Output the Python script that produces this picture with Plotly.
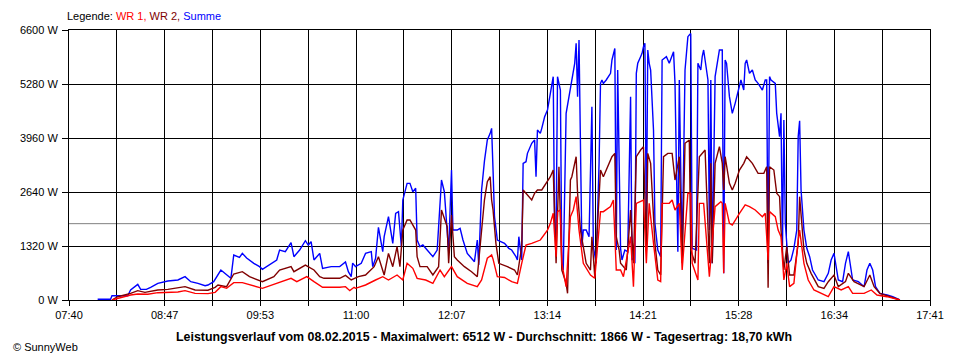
import plotly.graph_objects as go

# ---------------- data ----------------
X_TICK_LABELS = ["07:40", "08:47", "09:53", "11:00", "12:07", "13:14", "14:21", "15:28", "16:34", "17:41"]
X_START, X_END = "07:40", "17:41"
Y_TICKS = [0, 1320, 2640, 3960, 5280, 6600]
AVERAGE_W = 1866
TITLE = "Leistungsverlauf vom 08.02.2015 - Maximalwert: 6512 W - Durchschnitt: 1866 W - Tagesertrag: 18,70 kWh"

SUMME = [
    ("08:00", 20), ("08:09", 20), ("08:10", 105), ("08:21", 105), ("08:23", 245), ("08:28", 383),
    ("08:30", 260), ("08:34", 260), ("08:37", 310), ("08:42", 408), ("08:49", 464), ("08:56", 489),
    ("09:01", 570), ("09:05", 448), ("09:10", 408), ("09:15", 350), ("09:17", 367), ("09:19", 408),
    ("09:21", 448), ("09:26", 733), ("09:30", 611), ("09:33", 530), ("09:35", 1100), ("09:39", 1043),
    ("09:41", 1140), ("09:44", 1026), ("09:49", 897), ("09:53", 815), ("09:55", 750), ("10:00", 855),
    ("10:05", 978), ("10:07", 1222), ("10:11", 1181), ("10:15", 1400), ("10:17", 1059), ("10:21", 1222),
    ("10:25", 1450), ("10:27", 1344), ("10:29", 1425), ("10:31", 978), ("10:35", 1140), ("10:37", 774),
    ("10:43", 815), ("10:49", 815), ("10:53", 930), ("10:55", 692), ("10:57", 570), ("10:58", 900),
    ("11:00", 815), ("11:04", 897), ("11:07", 1140), ("11:11", 1181), ("11:12", 815), ("11:14", 1018),
    ("11:16", 1777), ("11:19", 1181), ("11:20", 1547), ("11:23", 2036), ("11:26", 1385), ("11:28", 2119),
    ("11:30", 2160), ("11:32", 1303), ("11:33", 2444), ("11:36", 2852), ("11:38", 2852), ("11:40", 2647),
    ("11:42", 2730), ("11:43", 1466), ("11:45", 1303), ("11:47", 1344), ("11:51", 1181), ("11:54", 1059),
    ("11:57", 1222), ("12:00", 2933), ("12:02", 2647), ("12:05", 1181), ("12:07", 3177), ("12:08", 1710),
    ("12:11", 1710), ("12:13", 1752), ("12:15", 1466), ("12:18", 1140), ("12:23", 937), ("12:25", 1466),
    ("12:26", 855), ("12:28", 2689), ("12:30", 3400), ("12:32", 3911), ("12:34", 4074), ("12:35", 4196),
    ("12:36", 3177), ("12:37", 2036), ("12:39", 1466), ("12:44", 1385), ("12:47", 1263), ("12:49", 1222),
    ("12:52", 1059), ("12:53", 978), ("12:54", 1547), ("12:56", 978), ("12:57", 3340), ("12:59", 3380),
    ("13:00", 3585), ("13:03", 3830), ("13:05", 3911), ("13:06", 3014), ("13:07", 4155), ("13:09", 4074),
    ("13:10", 4196), ("13:12", 4480), ("13:14", 4644), ("13:16", 5052), ("13:17", 5296), ("13:18", 5460),
    ("13:19", 1547), ("13:20", 1630), ("13:21", 5460), ("13:22", 5296), ("13:23", 5133), ("13:24", 897),
    ("13:25", 733), ("13:27", 4563), ("13:29", 4970), ("13:31", 5296), ("13:33", 5786), ("13:34", 6274),
    ("13:35", 4970), ("13:36", 6355), ("13:37", 3177), ("13:38", 1303), ("13:39", 1710), ("13:41", 1710),
    ("13:43", 1547), ("13:45", 4726), ("13:46", 1303), ("13:48", 897), ("13:50", 3340), ("13:51", 5296),
    ("13:52", 5378), ("13:53", 5296), ("13:55", 5378), ("13:58", 5541), ("13:59", 5867), ("14:01", 6150),
    ("14:02", 1222), ("14:03", 5622), ("14:05", 1263), ("14:06", 978), ("14:08", 1222), ("14:10", 1181),
    ("14:12", 4970), ("14:13", 978), ("14:14", 1018), ("14:15", 897), ("14:16", 5541), ("14:17", 5786),
    ("14:19", 5948), ("14:20", 6030), ("14:21", 6192), ("14:22", 6274), ("14:23", 1710), ("14:24", 6111),
    ("14:25", 5786), ("14:26", 5622), ("14:28", 4155), ("14:29", 1874), ("14:31", 1222), ("14:33", 1059),
    ("14:34", 5867), ("14:37", 5948), ("14:39", 5786), ("14:41", 5948), ("14:42", 6070), ("14:43", 5296),
    ("14:45", 1181), ("14:46", 5378), ("14:48", 1059), ("14:50", 5622), ("14:51", 5948), ("14:52", 6437),
    ("14:53", 6478), ("14:54", 6512), ("14:55", 1263), ("14:57", 1222), ("14:58", 1222), ("14:59", 5786),
    ("15:01", 5622), ("15:02", 5948), ("15:03", 6111), ("15:06", 5378), ("15:07", 1710), ("15:08", 5378),
    ("15:09", 897), ("15:11", 5460), ("15:14", 6111), ("15:16", 6111), ("15:17", 652), ("15:18", 5867),
    ("15:19", 5786), ("15:21", 4970), ("15:23", 4563), ("15:25", 4807), ("15:28", 5296), ("15:29", 5378),
    ("15:31", 5133), ("15:32", 5786), ("15:33", 5867), ("15:35", 5541), ("15:37", 5622), ("15:39", 5378),
    ("15:41", 5296), ("15:44", 5133), ("15:46", 5378), ("15:47", 5378), ("15:48", 897), ("15:49", 5460),
    ("15:50", 5378), ("15:53", 5296), ("15:54", 4563), ("15:55", 4237), ("15:56", 3993), ("15:57", 4563),
    ("15:58", 1222), ("15:59", 4400), ("16:00", 1874), ("16:02", 897), ("16:04", 978), ("16:06", 1263),
    ("16:08", 1710), ("16:09", 3993), ("16:10", 4382), ("16:11", 2689), ("16:13", 1710), ("16:15", 1263),
    ("16:17", 1059), ("16:19", 733), ("16:23", 489), ("16:27", 448), ("16:30", 652), ("16:32", 978),
    ("16:34", 1140), ("16:37", 489), ("16:40", 448), ("16:42", 897), ("16:44", 1181), ("16:47", 489),
    ("16:51", 448), ("16:55", 326), ("16:57", 733), ("16:59", 897), ("17:01", 733), ("17:03", 326),
    ("17:06", 163), ("17:11", 122), ("17:15", 81), ("17:20", 0),
]

WR2 = [
    ("08:10", 0), ("08:14", 80), ("08:23", 163), ("08:28", 228), ("08:33", 187), ("08:42", 245),
    ("08:49", 260), ("09:01", 326), ("09:08", 245), ("09:17", 240), ("09:22", 310), ("09:24", 367),
    ("09:30", 326), ("09:35", 636), ("09:41", 692), ("09:46", 570), ("09:55", 448), ("10:03", 570),
    ("10:07", 733), ("10:15", 815), ("10:17", 692), ("10:25", 855), ("10:31", 733), ("10:35", 570),
    ("10:38", 530), ("10:49", 530), ("10:53", 600), ("10:57", 489), ("11:02", 570), ("11:07", 611),
    ("11:13", 815), ("11:16", 1059), ("11:20", 611), ("11:23", 1140), ("11:26", 815), ("11:29", 1303),
    ("11:31", 815), ("11:33", 1710), ("11:36", 1955), ("11:38", 1955), ("11:42", 1710), ("11:43", 1059),
    ("11:45", 815), ("11:50", 815), ("11:54", 611), ("11:58", 815), ("12:00", 2200), ("12:04", 1792),
    ("12:05", 897), ("12:07", 2078), ("12:09", 1059), ("12:11", 978), ("12:16", 815), ("12:21", 692),
    ("12:25", 570), ("12:28", 1792), ("12:30", 2450), ("12:32", 2893), ("12:34", 3014), ("12:35", 2444),
    ("12:36", 2200), ("12:38", 1385), ("12:40", 897), ("12:46", 815), ("12:51", 733), ("12:53", 611),
    ("12:56", 1303), ("12:57", 2689), ("13:00", 2567), ("13:03", 2444), ("13:05", 2608), ("13:07", 2689),
    ("13:10", 2689), ("13:13", 2852), ("13:16", 3014), ("13:18", 3177), ("13:20", 897), ("13:22", 3259),
    ("13:24", 733), ("13:27", 408), ("13:28", 163), ("13:30", 2933), ("13:31", 3014), ("13:34", 3503),
    ("13:35", 2608), ("13:37", 1710), ("13:39", 1303), ("13:41", 897), ("13:44", 733), ("13:45", 1547),
    ("13:47", 570), ("13:51", 3177), ("13:53", 3014), ("13:56", 3259), ("13:59", 3503), ("14:01", 3585),
    ("14:02", 1547), ("14:04", 1222), ("14:05", 897), ("14:09", 733), ("14:12", 2200), ("14:14", 897),
    ("14:16", 3503), ("14:19", 3666), ("14:21", 3748), ("14:23", 1222), ("14:24", 3585), ("14:26", 3340),
    ("14:29", 1385), ("14:31", 733), ("14:33", 611), ("14:35", 3503), ("14:38", 3585), ("14:41", 3585),
    ("14:43", 2933), ("14:46", 3503), ("14:48", 897), ("14:50", 3830), ("14:53", 3911), ("14:54", 1222),
    ("14:57", 897), ("15:00", 3503), ("15:02", 3585), ("15:04", 3666), ("15:07", 897), ("15:08", 3340),
    ("15:09", 897), ("15:11", 3340), ("15:14", 3748), ("15:16", 3340), ("15:17", 2689), ("15:18", 3503),
    ("15:21", 2852), ("15:23", 2689), ("15:25", 2852), ("15:28", 3177), ("15:31", 3340), ("15:33", 3503),
    ("15:37", 3340), ("15:41", 3096), ("15:45", 3096), ("15:47", 3259), ("15:48", 300), ("15:49", 3259),
    ("15:52", 3177), ("15:54", 2608), ("15:56", 2526), ("15:57", 1710), ("15:59", 733), ("16:01", 1303),
    ("16:03", 611), ("16:06", 611), ("16:09", 1385), ("16:10", 2526), ("16:13", 1222), ("16:15", 897),
    ("16:18", 652), ("16:23", 326), ("16:27", 285), ("16:30", 448), ("16:34", 611), ("16:37", 326),
    ("16:42", 448), ("16:44", 652), ("16:48", 448), ("16:55", 326), ("16:59", 611), ("17:02", 326),
    ("17:06", 163), ("17:11", 100), ("17:20", 0),
]

WR1 = [
    ("08:10", 0), ("08:14", 40), ("08:23", 122), ("08:28", 147), ("08:35", 139), ("08:42", 179),
    ("08:56", 196), ("09:01", 228), ("09:08", 163), ("09:17", 155), ("09:22", 187), ("09:26", 326),
    ("09:30", 285), ("09:35", 424), ("09:41", 424), ("09:55", 285), ("10:05", 408), ("10:15", 530),
    ("10:19", 448), ("10:26", 570), ("10:31", 448), ("10:37", 310), ("10:49", 310), ("10:53", 326),
    ("10:56", 228), ("10:59", 310), ("11:00", 285), ("11:07", 367), ("11:14", 489), ("11:19", 570),
    ("11:23", 489), ("11:29", 611), ("11:33", 489), ("11:36", 897), ("11:40", 774), ("11:43", 530),
    ("11:49", 489), ("11:54", 408), ("11:59", 733), ("12:02", 570), ("12:07", 815), ("12:11", 570),
    ("12:18", 408), ("12:25", 326), ("12:28", 489), ("12:30", 780), ("12:32", 1020), ("12:35", 1100),
    ("12:36", 1000), ("12:39", 570), ("12:44", 550), ("12:49", 448), ("12:53", 408), ("12:56", 897),
    ("12:59", 1344), ("13:03", 1385), ("13:09", 1466), ("13:14", 1710), ("13:16", 1874), ("13:18", 2119),
    ("13:20", 1059), ("13:21", 2160), ("13:23", 2200), ("13:24", 897), ("13:27", 326), ("13:30", 2036),
    ("13:32", 2200), ("13:34", 2526), ("13:36", 1710), ("13:39", 897), ("13:44", 611), ("13:47", 530),
    ("13:51", 2160), ("13:53", 2159), ("13:58", 2282), ("14:00", 2444), ("14:02", 733), ("14:05", 733),
    ("14:07", 570), ("14:12", 1547), ("14:14", 326), ("14:16", 2363), ("14:21", 2444), ("14:23", 897),
    ("14:25", 2363), ("14:28", 1385), ("14:31", 489), ("14:33", 448), ("14:34", 2363), ("14:39", 2363),
    ("14:41", 2444), ("14:43", 2200), ("14:46", 2363), ("14:48", 733), ("14:52", 2608), ("14:54", 2608),
    ("14:55", 897), ("14:59", 489), ("15:00", 2363), ("15:03", 2363), ("15:07", 570), ("15:11", 2282),
    ("15:15", 2404), ("15:16", 2363), ("15:17", 652), ("15:18", 2363), ("15:21", 1874), ("15:23", 1830),
    ("15:25", 1955), ("15:28", 2119), ("15:32", 2323), ("15:35", 2282), ("15:39", 2200), ("15:44", 2036),
    ("15:46", 2119), ("15:48", 978), ("15:49", 2160), ("15:53", 2036), ("15:55", 1710), ("15:57", 1547),
    ("15:59", 489), ("16:01", 897), ("16:03", 326), ("16:06", 408), ("16:09", 1466), ("16:10", 1710),
    ("16:13", 897), ("16:16", 489), ("16:20", 245), ("16:25", 163), ("16:30", 81), ("16:34", 326),
    ("16:39", 245), ("16:44", 326), ("16:47", 163), ("16:55", 163), ("17:00", 245), ("17:04", 122),
    ("17:11", 81), ("17:20", 0),
]


def to_min(s):
    h, m = s.split(":")
    return int(h) * 60 + int(m)


def unzip(series):
    return [to_min(t) for t, _ in series], [v for _, v in series]


x0, x1 = to_min(X_START), to_min(X_END)
n_grid = 2 * (len(X_TICK_LABELS) - 1)
grid_vals = [x0 + i * (x1 - x0) / n_grid for i in range(n_grid + 1)]
grid_text = [X_TICK_LABELS[i // 2] if i % 2 == 0 else "" for i in range(n_grid + 1)]

FONT = "Liberation Sans, Arial, sans-serif"

fig = go.Figure()
for name, series, color in [("Summe", SUMME, "#0000FF"), ("WR 2", WR2, "#800000"), ("WR 1", WR1, "#FF0000")]:
    xs, ys = unzip(series)
    fig.add_trace(go.Scatter(x=xs, y=ys, mode="lines", name=name,
                             line=dict(color=color, width=1.4), hoverinfo="skip"))

fig.add_shape(type="line", xref="paper", x0=0, x1=1, yref="y", y0=AVERAGE_W, y1=AVERAGE_W,
              line=dict(color="#808080", width=1), layer="below")

axis_common = dict(showgrid=True, gridcolor="black", gridwidth=1, showline=True, mirror=True,
                   linecolor="black", linewidth=1, ticks="outside", tickcolor="black",
                   zeroline=False, tickfont=dict(family=FONT, size=11, color="black"))

fig.update_xaxes(range=[x0, x1], tickmode="array", tickvals=grid_vals, ticktext=grid_text,
                 ticklen=5, **axis_common)
fig.update_yaxes(range=[0, Y_TICKS[-1]], tickmode="array", tickvals=Y_TICKS,
                 ticktext=[f"{v} W" for v in Y_TICKS], ticklen=6, ticklabelstandoff=2, **axis_common)

# the page body adds an 8px offset, so the figure is 8px smaller on each side
fig.update_layout(
    width=952, height=352,
    margin=dict(l=52, r=30, t=22, b=60),
    plot_bgcolor="white", paper_bgcolor="white",
    showlegend=False,
    font=dict(family=FONT, size=11, color="black"),
)

fig.add_annotation(
    xref="paper", yref="paper", x=-4 / 870, y=(300 - 16) / 270, xanchor="left", yanchor="middle",
    showarrow=False, font=dict(family=FONT, size=11, color="black"),
    text="Legende: <span style='color:#FF0000'>WR 1, </span><span style='color:#800000'>WR 2, </span>"
         "<span style='color:#0000FF'>Summe</span>",
)
fig.add_annotation(
    xref="paper", yref="paper", x=(479 - 60) / 870, y=(300 - 337) / 270, xanchor="center",
    yanchor="middle", showarrow=False, text=f"<b>{TITLE}</b>",
    font=dict(family=FONT, size=12.4, color="black"),
)
fig.add_annotation(
    xref="paper", yref="paper", x=(1 - 60) / 870, y=(300 - 347) / 270, xanchor="left",
    yanchor="middle", showarrow=False, text="© SunnyWeb",
    font=dict(family=FONT, size=11, color="black"),
)

fig.write_html("out.html")
